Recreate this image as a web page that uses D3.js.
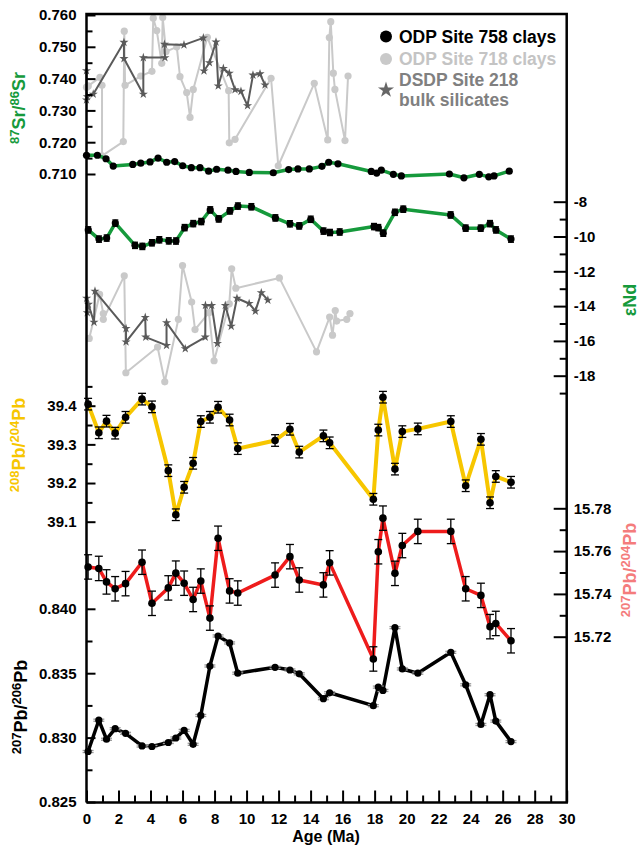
<!DOCTYPE html>
<html><head><meta charset="utf-8">
<script src="https://cdn.jsdelivr.net/npm/d3@7"></script>
<style>body{margin:0;background:#fff}svg{display:block;font-family:"Liberation Sans",Arial,sans-serif;font-weight:bold}</style>
</head><body><svg id="c" width="641" height="848"></svg>
<script>
// ---------- DATA ----------
// ODP Site 758 clays: 87Sr/86Sr
const srAge758 = [0.00,0.68,1.22,1.67,2.89,3.39,3.97,4.47,5.01,5.51,6.01,6.55,7.09,7.63,8.13,8.84,9.34,10.17,11.67,12.63,13.21,13.92,14.71,15.13,15.71,17.79,18.13,18.42,19.17,19.67,22.67,23.58,24.54,25.13,25.46,26.41];
const sr758 = [0.7159,0.7159,0.7148,0.7125,0.7130,0.7134,0.7138,0.7150,0.7137,0.7139,0.7126,0.7120,0.7120,0.7109,0.7115,0.7112,0.7108,0.7105,0.7104,0.7114,0.7116,0.7116,0.7124,0.7137,0.7132,0.7108,0.7103,0.7112,0.7099,0.7094,0.7100,0.7088,0.7099,0.7091,0.7094,0.7109];
// ODP Site 718 clays: 87Sr/86Sr
const srAge718 = [0.00,0.11,0.84,0.97,0.97,2.30,2.36,2.41,3.39,4.09,4.17,4.39,4.70,4.76,4.97,5.64,5.84,6.26,6.47,6.67,7.55,8.88,8.92,9.28,11.53,11.98,14.23,15.07,15.17,15.26,15.42,15.52,16.15,16.34];
const sr718 = [0.7373,0.7377,0.7404,0.7379,0.7157,0.7202,0.7549,0.7379,0.7408,0.7423,0.7590,0.7551,0.7448,0.7592,0.7485,0.7500,0.7406,0.7356,0.7278,0.7366,0.7530,0.7362,0.7198,0.7209,0.7401,0.7126,0.7385,0.7207,0.7529,0.7579,0.7417,0.7366,0.7205,0.7408];
// DSDP Site 218 bulk silicates: 87Sr/86Sr
const srAge218 = [0.00,0.00,0.05,0.42,2.34,2.34,3.55,3.55,4.90,4.87,6.09,7.30,7.34,7.68,8.09,8.23,8.55,8.92,9.28,9.65,10.06,10.40,10.84,11.15];
const sr218 = [0.7425,0.7333,0.7343,0.7351,0.7514,0.7463,0.7351,0.7466,0.7466,0.7508,0.7506,0.7528,0.7424,0.7450,0.7515,0.7377,0.7432,0.7417,0.7365,0.7360,0.7315,0.7411,0.7415,0.7380];

// eNd
const ndAge758 = [0.11,0.78,1.26,1.80,3.03,3.49,4.09,4.55,5.14,5.59,6.13,6.67,7.17,7.73,8.26,8.96,9.46,10.30,11.80,12.71,13.29,14.01,14.81,15.21,15.82,17.96,18.23,18.54,19.27,19.79,22.75,23.69,24.63,25.21,25.58,26.52];
const nd758 = [-9.62,-10.15,-10.09,-9.23,-10.51,-10.57,-10.36,-10.19,-10.25,-10.26,-9.49,-9.26,-9.14,-8.47,-8.99,-8.53,-8.25,-8.29,-8.93,-9.27,-9.39,-9.01,-9.69,-9.77,-9.74,-9.43,-9.49,-9.81,-8.61,-8.43,-8.76,-9.52,-9.52,-9.26,-9.62,-10.15];
const ndAge718 = [0.17,0.82,1.05,1.05,2.36,2.46,4.44,4.89,5.74,6.00,6.57,6.78,7.65,7.97,8.92,9.07,9.33,12.05,14.37,15.19,15.37,15.54,15.63,16.26,16.46];
const nd718 = [-15.86,-13.33,-14.43,-14.76,-12.26,-17.83,-16.35,-18.35,-14.76,-11.67,-13.77,-15.35,-14.38,-17.14,-13.87,-11.86,-12.97,-12.38,-16.63,-14.63,-15.67,-14.26,-14.86,-14.76,-14.43];
const ndAge218 = [0.01,0.05,0.12,0.47,0.53,2.47,2.47,3.67,3.70,5.00,5.00,6.17,7.42,7.43,7.82,8.18,8.67,9.04,9.40,10.16,10.55,10.92,11.33];
const nd218 = [-13.55,-14.38,-13.90,-14.93,-13.14,-15.29,-16.06,-14.65,-15.78,-16.26,-14.95,-16.45,-15.78,-13.96,-13.96,-16.15,-13.96,-15.16,-13.55,-13.85,-14.29,-13.23,-13.66];
const ndErr = 0.18;

// Pb isotopes, ODP Site 758 clays
const pbAge = [0.10,0.77,1.25,1.79,2.44,3.47,4.09,5.11,5.58,6.10,6.66,7.14,7.71,8.22,8.94,9.45,11.78,12.71,13.29,14.80,15.19,17.92,18.23,18.52,19.27,19.73,20.70,22.76,23.69,24.64,25.21,25.57,26.52];
const pb208_204 = [39.404,39.330,39.360,39.329,39.370,39.417,39.397,39.232,39.118,39.189,39.251,39.359,39.370,39.396,39.363,39.289,39.310,39.339,39.280,39.322,39.304,39.158,39.337,39.422,39.236,39.333,39.340,39.359,39.193,39.313,39.149,39.217,39.202];
const pb207_204 = [15.7526,15.7519,15.7456,15.7424,15.7448,15.7548,15.7356,15.7428,15.7497,15.7450,15.7374,15.7460,15.7287,15.7660,15.7414,15.7404,15.7488,15.7574,15.7465,15.7442,15.7545,15.7096,15.7597,15.7754,15.7496,15.7626,15.7692,15.7692,15.7424,15.7393,15.7247,15.7262,15.7181];
const pb207_206 = [0.82892,0.83135,0.82987,0.83069,0.83033,0.82935,0.82931,0.82962,0.82997,0.83056,0.82948,0.83172,0.83556,0.83789,0.83735,0.83500,0.83546,0.83525,0.83495,0.83302,0.83348,0.83248,0.83392,0.83366,0.83854,0.83533,0.83500,0.83662,0.83410,0.83102,0.83333,0.83128,0.82969];
const err208 = 0.015, err207_204 = 0.0057, err207_206 = 0.00008;

// Tick values
const xMajor = d3.range(0, 31, 2), xMinor = d3.range(1, 30, 2);
const srMajor = [0.710,0.720,0.730,0.740,0.750,0.760], srMinor = [0.715,0.725,0.735,0.745,0.755];
const ndMajor = [-8,-10,-12,-14,-16,-18], ndMinor = [-9,-11,-13,-15,-17,-19];
const p8Major = [39.1,39.2,39.3,39.4], p8Minor = [39.15,39.25,39.35,39.45];
const p74Major = [15.72,15.74,15.76,15.78], p74Minor = [15.73,15.75,15.77];
const p76Major = [0.825,0.830,0.835,0.840], p76Minor = [0.8275,0.8325,0.8375];

// ---------- DRAW ----------
const svg = d3.select("#c");
const X0 = 86.5, X1 = 566.7, YT = 14, YB = 802.5;
const x = d3.scaleLinear().domain([0,30]).range([X0, X1]);
const ySr = d3.scaleLinear().domain([0.710,0.760]).range([174,15]);
const yNd = d3.scaleLinear().domain([-8,-18]).range([201.7,375.7]);
const y208 = d3.scaleLinear().domain([39.1,39.4]).range([521.7,405.7]);
const y74 = d3.scaleLinear().domain([15.72,15.78]).range([636.7,508.3]);
const y76 = d3.scaleLinear().domain([0.825,0.840]).range([802,608.8]);

const GREEN = "#169a3c", YEL = "#f7c600", RED = "#ee1c1c", LG = "#c9c9c9", DG = "#5a5a5a";

function series(ages, vals, ys, opt) {
  const idx = d3.range(ages.length);
  const line = d3.line().x(i => x(ages[i])).y(i => ys(vals[i]));
  svg.append("path").attr("d", line(idx)).attr("fill","none")
    .attr("stroke", opt.line).attr("stroke-width", opt.lw).attr("stroke-linejoin","round");
  if (opt.err) {
    const g = svg.append("g").attr("stroke", opt.errColor || "#000").attr("stroke-width", 1.3);
    idx.forEach(i => {
      const cx = x(ages[i]), y1 = ys(vals[i] - opt.err), y2 = ys(vals[i] + opt.err), w = opt.capW;
      g.append("line").attr("x1",cx).attr("x2",cx).attr("y1",y1).attr("y2",y2);
      g.append("line").attr("x1",cx-w/2).attr("x2",cx+w/2).attr("y1",y1).attr("y2",y1);
      g.append("line").attr("x1",cx-w/2).attr("x2",cx+w/2).attr("y1",y2).attr("y2",y2);
    });
  }
  if (opt.star) {
    svg.append("g").selectAll("path").data(idx).join("path")
      .attr("d", d3.symbol(d3.symbolStar, opt.size)())
      .attr("transform", i => `translate(${x(ages[i])},${ys(vals[i])})`)
      .attr("fill", opt.dot);
  } else {
    svg.append("g").selectAll("circle").data(idx).join("circle")
      .attr("cx", i => x(ages[i])).attr("cy", i => ys(vals[i])).attr("r", opt.r).attr("fill", opt.dot);
  }
}

// Sr panel
series(srAge718, sr718, ySr, {line: LG, lw: 2, dot: LG, r: 3.6});
series(srAge218, sr218, ySr, {line: DG, lw: 2, dot: DG, star: true, size: 26});
series(srAge758, sr758, ySr, {line: GREEN, lw: 3.5, dot: "#000", r: 3.6});
// Nd panel
series(ndAge718, nd718, yNd, {line: LG, lw: 2, dot: LG, r: 3.6});
series(ndAge218, nd218, yNd, {line: DG, lw: 2, dot: DG, star: true, size: 26});
series(ndAge758, nd758, yNd, {line: GREEN, lw: 3.5, dot: "#000", r: 3.6, err: ndErr, capW: 6});
// Pb panels
series(pbAge, pb208_204, y208, {line: YEL, lw: 4, dot: "#000", r: 3.8, err: err208, capW: 8});
series(pbAge, pb207_204, y74, {line: RED, lw: 3.5, dot: "#000", r: 3.8, err: err207_204, capW: 8});
series(pbAge, pb207_206, y76, {line: "#000", lw: 3.5, dot: "#000", r: 3.6, err: err207_206, capW: 11, errColor: "#999"});

// Axes
function styleAxis(g, fs) {
  g.select(".domain").remove();
  g.selectAll("line").attr("stroke","#000").attr("stroke-width",2);
  g.selectAll("text").attr("font-size", fs).attr("font-family",'"Liberation Sans",Arial,sans-serif')
    .attr("font-weight","bold").attr("fill","#000");
  g.attr("font-size", null).attr("font-family", null);
}
function leftAxis(scale, major, minor, fmt) {
  const g1 = svg.append("g").attr("transform",`translate(${X0},0)`)
    .call(d3.axisLeft(scale).tickValues(major).tickSizeInner(-9).tickSizeOuter(0).tickPadding(10).tickFormat(fmt));
  styleAxis(g1, 15);
  const g2 = svg.append("g").attr("transform",`translate(${X0},0)`)
    .call(d3.axisLeft(scale).tickValues(minor).tickSizeInner(-6).tickSizeOuter(0).tickFormat(""));
  styleAxis(g2, 15);
}
function rightAxis(scale, major, minor, fmt) {
  const g1 = svg.append("g").attr("transform",`translate(${X1},0)`)
    .call(d3.axisRight(scale).tickValues(major).tickSizeInner(-13).tickSizeOuter(0).tickPadding(7).tickFormat(fmt));
  styleAxis(g1, 15);
  const g2 = svg.append("g").attr("transform",`translate(${X1},0)`)
    .call(d3.axisRight(scale).tickValues(minor).tickSizeInner(-7).tickSizeOuter(0).tickFormat(""));
  styleAxis(g2, 15);
}
leftAxis(ySr, srMajor, srMinor, d3.format(".3f"));
leftAxis(y208, p8Major, p8Minor, d3.format(".1f"));
leftAxis(y76, p76Major, p76Minor, d3.format(".3f"));
rightAxis(yNd, ndMajor, ndMinor, d => String(d));
rightAxis(y74, p74Major, p74Minor, d3.format(".2f"));

const gx1 = svg.append("g").attr("transform",`translate(0,${YB})`)
  .call(d3.axisBottom(x).tickValues(xMajor).tickSizeInner(-12).tickSizeOuter(0).tickPadding(10.5).tickFormat(d3.format("d")));
styleAxis(gx1, 15);
const gx2 = svg.append("g").attr("transform",`translate(0,${YB})`)
  .call(d3.axisBottom(x).tickValues(xMinor).tickSizeInner(-7).tickSizeOuter(0).tickFormat(""));
styleAxis(gx2, 15);

// Frame
svg.append("path").attr("d", `M${X0},${YB}V${YT}H${X1}V${YB}H${X0}`).attr("fill","none")
  .attr("stroke","#000").attr("stroke-width",2.5);

// Axis titles
function rotLabel(cx, cy, color, parts) {
  const t = svg.append("text").attr("transform",`translate(${cx},${cy}) rotate(-90)`)
    .attr("text-anchor","middle").attr("fill", color).attr("font-weight","bold");
  let shift = 0;
  parts.forEach(([s, sup]) => {
    const dy = sup ? -6 - shift : -shift;
    shift += dy;
    t.append("tspan").attr("font-size", sup ? 13 : 18).attr("dy", dy).text(s);
  });
}
rotLabel(25, 108, GREEN, [["87",1],["Sr/",0],["86",1],["Sr",0]]);
rotLabel(25, 445, YEL, [["208",1],["Pb/",0],["204",1],["Pb",0]]);
rotLabel(27, 707, "#000", [["207",1],["Pb/",0],["206",1],["Pb",0]]);
rotLabel(636, 570, "#f47c7c", [["207",1],["Pb/",0],["204",1],["Pb",0]]);
svg.append("text").attr("transform","translate(636,300) rotate(-90)").attr("text-anchor","middle")
  .attr("fill", GREEN).attr("font-size",18).text("εNd");

svg.append("text").attr("x", 326).attr("y", 842).attr("text-anchor","middle")
  .attr("font-size", 16).attr("fill","#000").text("Age (Ma)");

// Legend
const leg = svg.append("g");
leg.append("circle").attr("cx",386).attr("cy",36.5).attr("r",6).attr("fill","#000");
leg.append("text").attr("x",399).attr("y",42.7).attr("font-size",17.5).attr("fill","#000").text("ODP Site 758 clays");
leg.append("circle").attr("cx",386).attr("cy",59).attr("r",6).attr("fill",LG);
leg.append("text").attr("x",399).attr("y",64.7).attr("font-size",17.5).attr("fill","#c4c4c4").text("ODP Site 718 clays");
leg.append("path").attr("d", d3.symbol(d3.symbolStar, 80)()).attr("transform","translate(386,90)").attr("fill","#666");
leg.append("text").attr("x",399).attr("y",86).attr("font-size",17.5).attr("fill","#808080").text("DSDP Site 218");
leg.append("text").attr("x",399).attr("y",105.5).attr("font-size",17.5).attr("fill","#808080").text("bulk silicates");
</script></body></html>
